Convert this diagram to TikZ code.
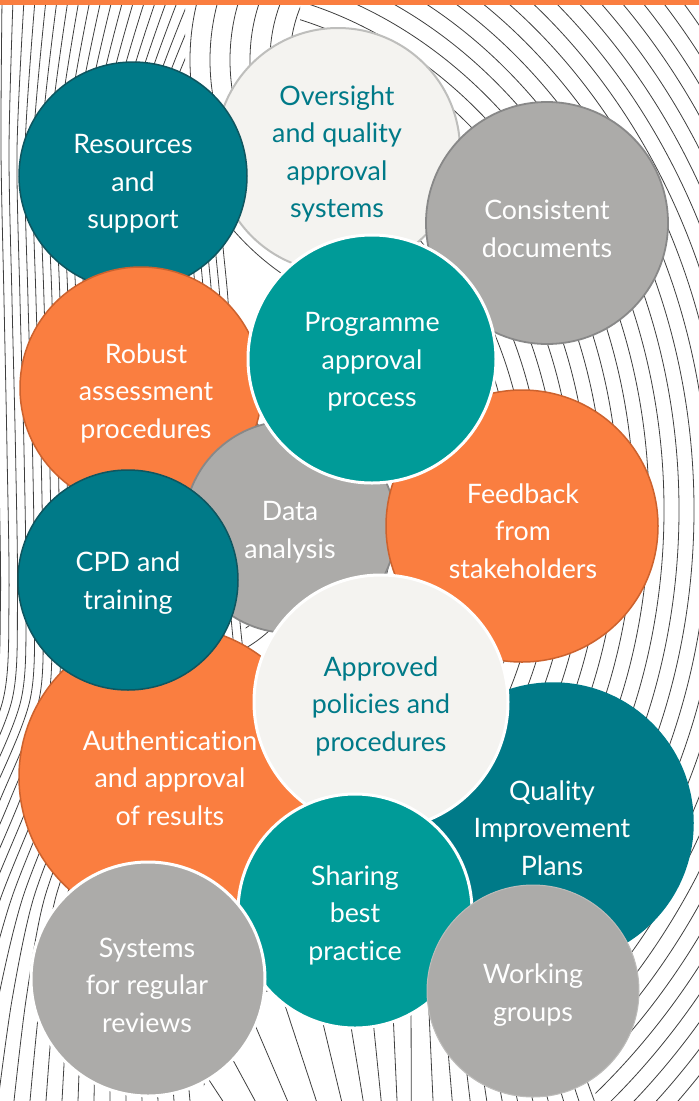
\documentclass[tikz,border=0pt]{standalone}
\usepackage{fontspec}
\setmainfont{Lato}[Ligatures={NoCommon,NoRare}]
\definecolor{deepteal}{RGB}{0,122,136}
\definecolor{deeptealrim}{RGB}{14,86,96}
\definecolor{brightteal}{RGB}{0,155,152}
\definecolor{flame}{RGB}{250,126,64}
\definecolor{flamerim}{RGB}{204,98,46}
\definecolor{stone}{RGB}{172,171,169}
\definecolor{stonerim}{RGB}{136,136,136}
\definecolor{paper}{RGB}{244,243,240}
\definecolor{paperrim}{RGB}{190,190,188}

\begin{document}
\begin{tikzpicture}[x=1pt,y=-1pt,
  contour/.style={draw=black!75,line width=0.8pt},
  bubble/.style={circle,inner sep=0pt},
  words/.style={inner sep=0pt,align=center,text=white,
    font=\fontsize{26.8}{37.5}\selectfont},
  darkwords/.style={words,text=deepteal},
  darkbub/.style={bubble,fill=deepteal,draw=deeptealrim,line width=1.5pt},
  tealbub/.style={bubble,fill=brightteal,draw=white,line width=3pt},
  flamebub/.style={bubble,fill=flame,draw=flamerim,line width=1.5pt},
  stonebub/.style={bubble,fill=stone,draw=stonerim,line width=1.8pt},
  paperbub/.style={bubble,fill=paper}]
 \useasboundingbox (0,0) rectangle (699,1101);
 \fill[white] (0,0) rectangle (699,1101);
 \begin{scope}
  \clip (0,0) rectangle (699,1101);
  \begin{scope}
   \clip (0,0) -- (185,0) -- (185,100) -- (215,230) -- (280,300) -- (250,450)
     -- (245,650) -- (230,1000) -- (200,1101) -- (0,1101) -- cycle;
   \foreach \k in {0,...,30}
    \draw[contour] plot[smooth] coordinates {({-20+11*\k},0) ({-15+8*\k},150)
      ({-12+8*\k},300) ({-10+8.5*\k},450) ({-8+8.5*\k},600) ({-15+9*\k},700)
      ({-60+10*\k},800) ({-110+11*\k},900) ({-170+14*\k},1000) ({-210+16*\k},1101)};
  \end{scope}
  \begin{scope}
   \clip (185,0) -- (300,0) -- (300,60) -- (280,300) -- (215,230) -- (185,100) -- cycle;
   \foreach \r in {140,160,...,340}
    \draw[contour] (430,60) circle [radius=\r pt];
  \end{scope}
  \begin{scope}
   \clip (300,0) -- (699,0) -- (699,1101) -- (600,1101) -- (540,1000) -- (230,1000)
     -- (245,650) -- (250,450) -- (280,300) -- (300,60) -- cycle;
   \foreach \a [evaluate=\a as \b using 1.18*\a] in {100,115,...,800}
    \draw[contour] (189,510) ellipse [x radius=\a pt, y radius=\b pt];
  \end{scope}
  \begin{scope}
   \clip (230,1000) -- (540,1000) -- (600,1101) -- (200,1101) -- cycle;
   \foreach \x in {150,195,240,280,315,345,370,392,411,428,443,457,470,482,494,506,518,530,542,554,566}
    \draw[contour] (\x,990) -- ({\x+0.28*abs(\x-410)},1101);
  \end{scope}

  \node[paperbub,draw=paperrim,line width=2pt,minimum size=244pt] (oversight) at (338,150) {};
  \node[darkwords] (oversight-t) at (337,154) {Oversight\\and quality\\approval\\systems};
  \node[darkbub,minimum size=228pt] (resources) at (133,176) {};
  \node[words] (resources-t) at (133,184) {Resources\\and\\support};
  \node[stonebub,minimum size=242pt] (consistent) at (547,223) {};
  \node[words] (consistent-t) at (547,229) {Consistent\\documents};
  \node[flamebub,minimum size=242pt] (robust) at (141,388) {};
  \node[words] (robust-t) at (146,393) {Robust\\assessment\\procedures};
  \node[flamebub,minimum size=302pt] (authentication) at (170,777) {};
  \node[words] (authentication-t) at (170,778) {Authentication\\and approval\\of results};
  \node[stonebub,minimum size=212pt] (data) at (290,527) {};
  \node[words] (data-t) at (290,532) {Data\\analysis};
  \node[flamebub,minimum size=272pt] (feedback) at (522,526) {};
  \node[words] (feedback-t) at (523,531) {Feedback\\from\\stakeholders};
  \node[tealbub,minimum size=248pt] (programme) at (372,359) {};
  \node[words] (programme-t) at (372,362) {Programme\\approval\\process};
  \node[darkbub,minimum size=220pt] (cpd) at (128,580) {};
  \node[words] (cpd-t) at (128,583) {CPD and\\training};
  \node[darkbub,draw=deepteal,minimum size=280pt] (quality) at (553,823) {};
  \node[words] (quality-t) at (552,828) {Quality\\Improvement\\Plans};
  \node[paperbub,draw=white,line width=3pt,minimum size=254pt] (approved) at (381,702) {};
  \node[darkwords] (approved-t) at (381,706) {Approved\\policies and\\procedures};
  \node[tealbub,minimum size=234pt] (sharing) at (355,911) {};
  \node[words] (sharing-t) at (355,915) {Sharing\\best\\practice};
  \node[stonebub,draw=white,line width=3pt,minimum size=234pt] (systems) at (148,979) {};
  \node[words] (systems-t) at (147,985) {Systems\\for regular\\reviews};
  \node[stonebub,draw=stone!80!white,line width=1pt,minimum size=212pt] (working) at (533,991) {};
  \node[words] (working-t) at (533,995) {Working\\groups};
 \end{scope}
 \fill[flame] (0,0) rectangle (699,5);
\end{tikzpicture}
\end{document}
